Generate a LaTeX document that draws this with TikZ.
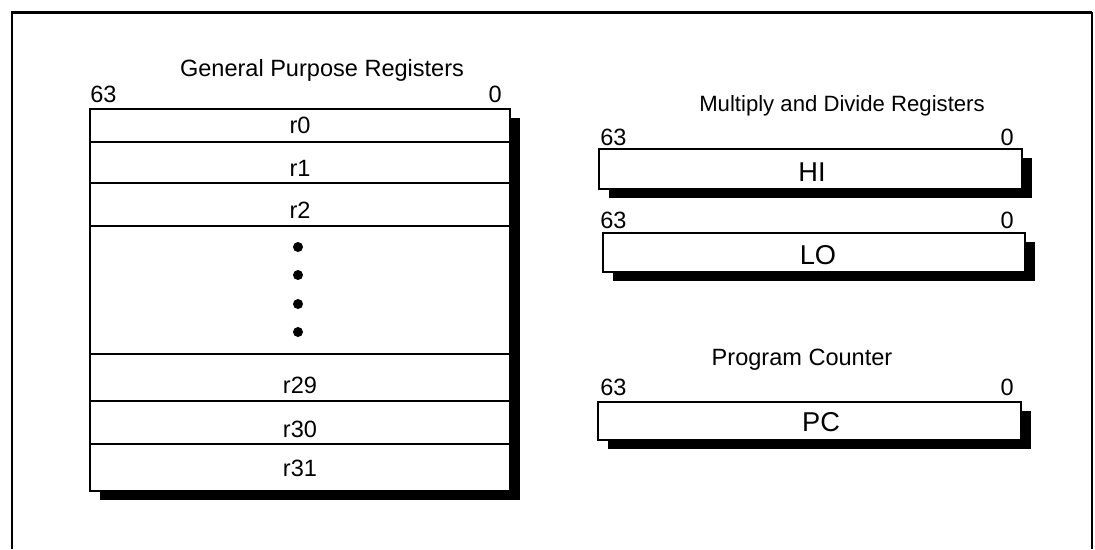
\documentclass[tikz,border=0pt]{standalone}
\usepackage{fontspec}
\setmainfont{Liberation Sans}
\usepackage{tikz}
\usetikzlibrary{positioning,shadows}

\begin{document}
\begin{tikzpicture}[
            x=0.02cm, y=-0.02cm,
            regbox/.style={draw, line width=0.8pt, fill=white, inner sep=0pt, outer sep=0pt,
                general shadow={fill=black, shadow xshift=0.2cm, shadow yshift=-0.18cm}},
            txt/.style={font=\fontsize{13.4}{16}\selectfont, inner sep=0pt},
            bigtxt/.style={font=\fontsize{15.5}{18}\selectfont, inner sep=0pt},
            dot/.style={circle, fill=black, inner sep=0pt, minimum size=0.2cm}
        ]
            \useasboundingbox (0,0) rectangle (1095,549);

            % outer frame
            \draw[line width=1.7pt] (12,549) -- (12,12) -- (1092,12);
            \draw[line width=0.6pt] (1092,12) -- (1092,549);

            % general purpose registers
            \node[regbox, minimum width=8.4cm, minimum height=7.64cm] (gpr) at (300,300) {};
            \foreach \y in {142,183,226,354,401,444}
                \draw[line width=0.6pt] (gpr.west |- 0,\y) -- (gpr.east |- 0,\y);

            \node[txt, anchor=base] (gprtitle) at (322,76) {General Purpose Registers};
            \node[txt, anchor=base west] (gprhi) at (90,102) {63};
            \node[txt, anchor=base east] (gprlo) at (502,102) {0};

            \node[txt, anchor=base] (r0) at (300,133) {r0};
            \node[txt, anchor=base] (r1) at (300,176) {r1};
            \node[txt, anchor=base] (r2) at (300,218) {r2};
            \foreach \y [count=\i] in {247,275,304,332}
                \node[dot] (dot\i) at (298,\y) {};
            \node[txt, anchor=base] (r29) at (300,393) {r29};
            \node[txt, anchor=base] (r30) at (300,437) {r30};
            \node[txt, anchor=base] (r31) at (300,476) {r31};

            % multiply and divide registers
            \node[txt, font=\fontsize{12.6}{15}\selectfont, anchor=base] (mdtitle) at (842,111) {Multiply and Divide Registers};

            \node[regbox, minimum width=8.46cm, minimum height=0.8cm] (hi) at (810.5,169) {};
            \node[txt, anchor=base west] (hihi) at (600,145) {63};
            \node[txt, anchor=base east] (hilo) at (1014,145) {0};
            \node[bigtxt, anchor=base] (hilabel) at (812,181) {HI};

            \node[regbox, minimum width=8.44cm, minimum height=0.78cm] (lo) at (814,252.5) {};
            \node[txt, anchor=base west] (lohi) at (600,228) {63};
            \node[txt, anchor=base east] (lolo) at (1014,228) {0};
            \node[bigtxt, anchor=base] (lolabel) at (818,264) {LO};

            % program counter
            \node[txt, anchor=base] (pctitle) at (802,365) {Program Counter};

            \node[regbox, minimum width=8.46cm, minimum height=0.76cm] (pc) at (809.5,421) {};
            \node[txt, anchor=base west] (pchi) at (600,395) {63};
            \node[txt, anchor=base east] (pclo) at (1014,395) {0};
            \node[bigtxt, anchor=base] (pclabel) at (821,431) {PC};
        \end{tikzpicture}
\end{document}
